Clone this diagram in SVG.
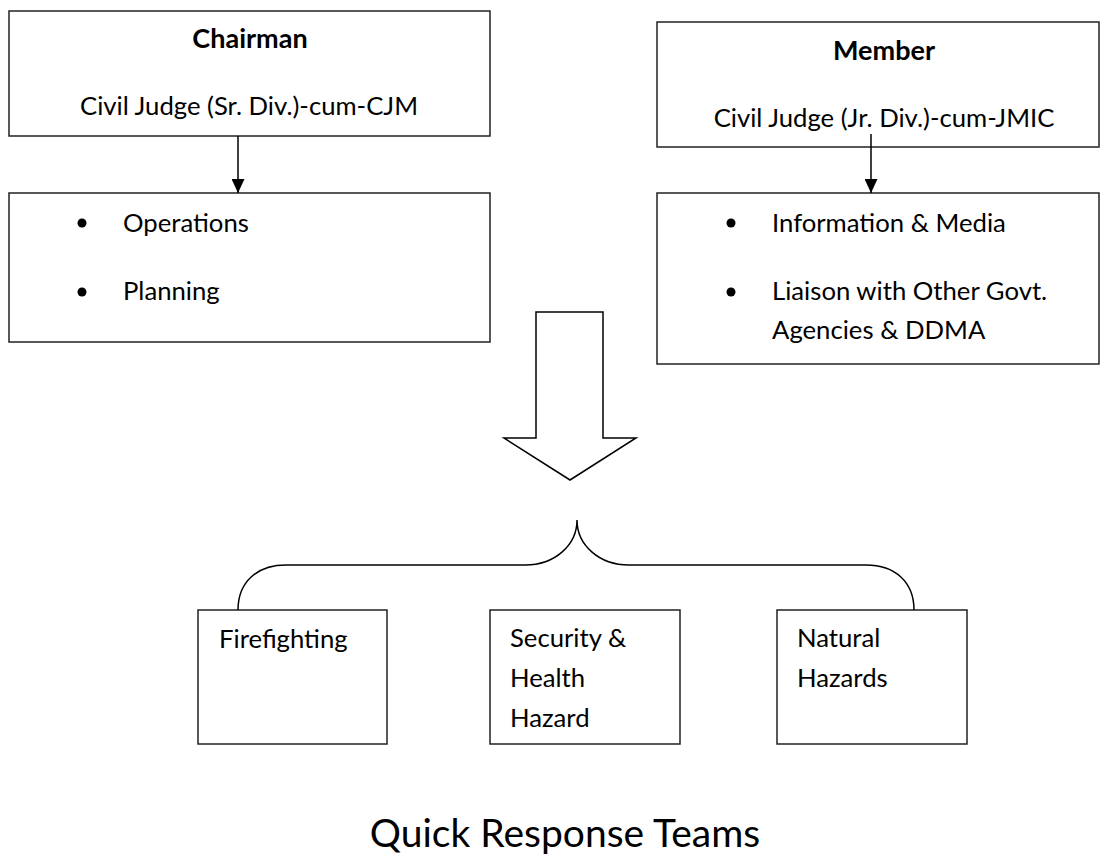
<svg xmlns="http://www.w3.org/2000/svg" width="1102" height="860" viewBox="0 0 1102 860">
<defs>
<style>
.box{fill:#fff;stroke:#222;stroke-width:1.5}
.t{font-family:Lato,"Open Sans","Liberation Sans",sans-serif;font-size:25.7px;fill:#000}
.b{font-weight:bold;font-size:27px}
.c{text-anchor:middle}
.ln{fill:none;stroke:#000;stroke-width:1.5}
.bul{fill:#000}
</style>
<marker id="ah" markerWidth="14" markerHeight="13" refX="14" refY="6.5" orient="auto" markerUnits="userSpaceOnUse">
<path d="M0,0 L14,6.5 L0,13 Z" fill="#000"/>
</marker>
</defs>
<rect width="1102" height="860" fill="#fff"/>
<g id="chairman">
<rect class="box" x="9" y="11" width="481" height="125"/>
<text class="t b c" x="250" y="48">Chairman</text>
<text class="t c" x="249" y="115">Civil Judge (Sr. Div.)-cum-CJM</text>
</g>
<g id="chairman-tasks">
<rect class="box" x="9" y="193" width="481" height="149"/>
<circle class="bul" cx="82" cy="223" r="4.5"/>
<text class="t" x="123" y="232">Operations</text>
<circle class="bul" cx="82" cy="292" r="4.5"/>
<text class="t" x="123" y="300">Planning</text>
</g>
<g id="member">
<rect class="box" x="657" y="22" width="442" height="125"/>
<text class="t b c" x="884" y="60">Member</text>
<text class="t c" x="884" y="127">Civil Judge (Jr. Div.)-cum-JMIC</text>
</g>
<g id="member-tasks">
<rect class="box" x="657" y="193" width="442" height="171"/>
<circle class="bul" cx="731" cy="223" r="4.5"/>
<text class="t" x="772" y="232">Information &amp; Media</text>
<circle class="bul" cx="731" cy="292" r="4.5"/>
<text class="t" x="772" y="300">Liaison with Other Govt.</text>
<text class="t" x="772" y="339">Agencies &amp; DDMA</text>
</g>
<g id="firefighting">
<rect class="box" x="198" y="610" width="189" height="134"/>
<text class="t" x="219" y="648">Firefighting</text>
</g>
<g id="security">
<rect class="box" x="490" y="610" width="190" height="134"/>
<text class="t" x="510" y="647">Security &amp;</text>
<text class="t" x="510" y="687">Health</text>
<text class="t" x="510" y="727">Hazard</text>
</g>
<g id="natural">
<rect class="box" x="777" y="610" width="190" height="134"/>
<text class="t" x="797" y="647">Natural</text>
<text class="t" x="797" y="687">Hazards</text>
</g>
<g id="connectors">
<line class="ln" x1="238" y1="136" x2="238" y2="193" marker-end="url(#ah)"/>
<line class="ln" x1="871" y1="134" x2="871" y2="193" marker-end="url(#ah)"/>
<polygon class="ln" fill="#fff" points="536,312 603,312 603,438 636,438 570,480 504,438 536,438"/>
<path class="ln" d="M238,610 C238,582 257,565 286,565 L525,565 C555,565 577,545 577,520 C577,545 599,565 629,565 L866,565 C895,565 914,582 914,610"/>
</g>
<text class="t c" x="565" y="847" style="font-size:39px">Quick Response Teams</text>
</svg>
